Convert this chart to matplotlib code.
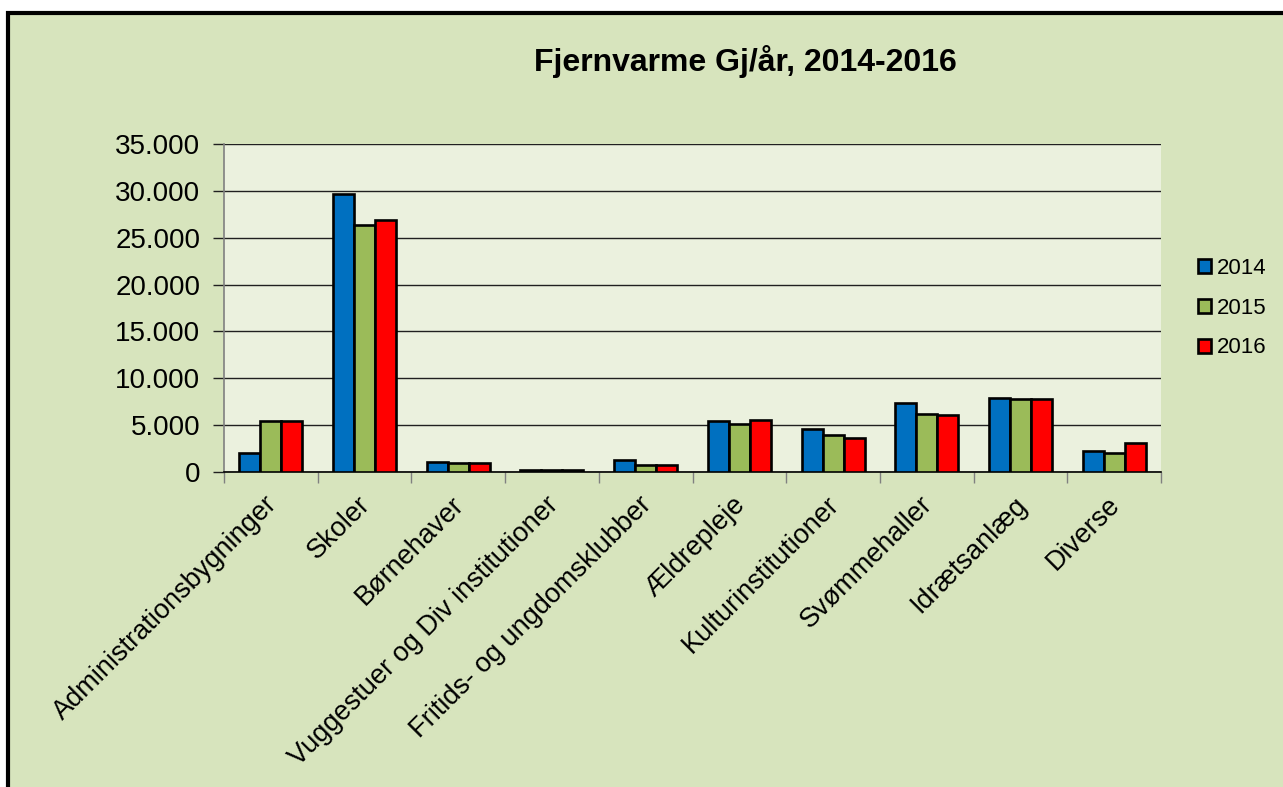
import matplotlib.pyplot as plt
import matplotlib.transforms as mtransforms
import numpy as np
from matplotlib.patches import Rectangle
from matplotlib.ticker import FuncFormatter

plt.rcParams['font.family'] = ['Liberation Sans', 'DejaVu Sans']

# data
categories = ['Administrationsbygninger', 'Skoler', 'Børnehaver',
              'Vuggestuer og Div institutioner', 'Fritids- og ungdomsklubber',
              'Ældrepleje', 'Kulturinstitutioner', 'Svømmehaller',
              'Idrætsanlæg', 'Diverse']
years = ['2014', '2015', '2016']
v2014 = [2000, 29700, 1050, 250, 1290, 5400, 4540, 7390, 7930, 2250]
v2015 = [5400, 26400, 930, 200, 750, 5100, 3930, 6180, 7790, 2000]
v2016 = [5430, 26900, 930, 200, 790, 5570, 3640, 6070, 7750, 3100]
colors = ['#0070C0', '#9BBB59', '#FF0000']

W, H = 1283, 787
fig = plt.figure(figsize=(W / 100, H / 100), dpi=100, facecolor='white')

# outer chart area with thick black frame (cut at right/bottom)
fig.patches.append(Rectangle((8 / W, -0.05), 1.1, 1 - 13 / H + 0.05,
                             transform=fig.transFigure, facecolor='#D7E4BD',
                             edgecolor='black', linewidth=3, zorder=-10))

ax = fig.add_axes([224 / W, 1 - 472 / H, (1161 - 224) / W, (472 - 144) / H])
ax.set_facecolor('#EBF1DE')

x = np.arange(len(categories))
bw = 0.224
for i, (vals, c, lab) in enumerate(zip([v2014, v2015, v2016], colors, years)):
    ax.bar(x + (i - 1) * bw, vals, width=bw, color=c, edgecolor='black',
           linewidth=1.9, label=lab, zorder=3)

ax.set_xlim(-0.5, len(categories) - 0.5)
ax.set_ylim(0, 35000)
ax.set_yticks(np.arange(0, 35001, 5000))
ax.yaxis.set_major_formatter(FuncFormatter(lambda v, p: f'{int(v):,}'.replace(',', '.')))
ax.grid(axis='y', color='#202020', linewidth=1, zorder=1)
ax.set_axisbelow(True)

ax.set_xticks(np.arange(-0.5, len(categories), 1))
ax.set_xticklabels([])
ax.set_xticks(x, minor=True)
ax.set_xticklabels(categories, minor=True, rotation=45, ha='right',
                   rotation_mode='anchor', fontsize=19.5)
ax.tick_params(axis='x', which='minor', length=0, pad=14)
ax.tick_params(axis='x', which='major', length=8, width=1, color='#808080')
ax.tick_params(axis='y', length=8, width=1, color='#202020', labelsize=20, pad=9)

# nudge the rotated category labels a little to the left
shift = mtransforms.ScaledTranslation(-0.07, 0, fig.dpi_scale_trans)
for lbl in ax.get_xticklabels(minor=True):
    lbl.set_transform(lbl.get_transform() + shift)

for s in ['top', 'right']:
    ax.spines[s].set_visible(False)
ax.spines['left'].set_color('#808080')
ax.spines['left'].set_linewidth(1.2)
ax.spines['bottom'].set_color('black')
ax.spines['bottom'].set_linewidth(1.2)

fig.text(745 / W, 1 - 62 / H, 'Fjernvarme Gj/år, 2014-2016', ha='center',
         va='center', fontsize=23, fontweight='bold')

leg = ax.legend(loc='center left', bbox_to_anchor=(1.018, 0.5), frameon=False,
                fontsize=16, handlelength=0.6, handleheight=0.6,
                handletextpad=0.25, labelspacing=0.85)

fig.savefig('out.png', dpi=100, facecolor='white')
